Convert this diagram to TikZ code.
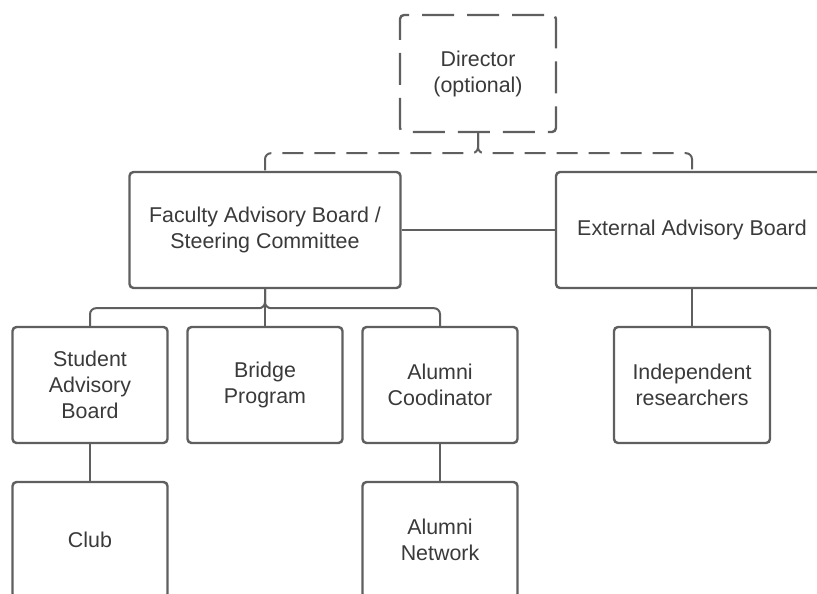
\documentclass[tikz,border=0pt]{standalone}
\usepackage{fontspec}
\setmainfont{Liberation Sans}
\definecolor{edge}{HTML}{5F5F5F}
\definecolor{ink}{HTML}{3A3A3A}
\begin{document}
\begin{tikzpicture}[x=1pt,y=-1pt,
  box/.style={draw=edge, line width=2.4pt, rounded corners=4pt, fill=white,
    text=ink, align=center, inner sep=0pt,
    font=\fontsize{21.4}{26}\selectfont},
  small/.style={box, minimum width=155pt, minimum height=116pt},
  wide/.style={box, minimum width=271pt, minimum height=116pt},
  link/.style={draw=edge, line width=2pt, rounded corners=6pt},
  optlink/.style={link, dash pattern=on 21pt off 11pt},
]
\useasboundingbox (0,0) rectangle (817,594);
\clip (0,0) rectangle (817,594);

% top level
\node[small, minimum width=156pt, minimum height=117pt,
      dash pattern=on 32pt off 13pt, dash phase=-8pt] (dir) at (478,73.5)
  {Director\\(optional)};
\node[wide] (fac) at (265,230) {Faculty Advisory Board /\\Steering Committee};
\node[wide, minimum width=272pt] (ext) at (692,230) {External Advisory Board};

% second row
\node[small] (sab) at (90,385)  {Student\\Advisory\\Board};
\node[small] (bri) at (265,385) {Bridge\\Program};
\node[small] (alc) at (440,385) {Alumni\\Coodinator};
\node[small, minimum width=156pt] (ind) at (692,385) {Independent\\researchers};

% third row
\node[small] (club) at (90,540)  {Club};
\node[small] (aln)  at (440,540) {Alumni\\Network};

% optional director links
\draw[optlink] (dir.south) -- ++(0,20) -| (fac.north);
\draw[optlink] (dir.south) -- ++(0,20) -| (ext.north);

% reporting lines
\draw[link] (fac.east) -- (ext.west);
\draw[link] (fac.south) -- ++(0,19) -| (sab.north);
\draw[link] (fac.south) -- (bri.north);
\draw[link] (fac.south) -- ++(0,19) -| (alc.north);
\draw[link] (ext.south) -- (ind.north);
\draw[link] (sab.south) -- (club.north);
\draw[link] (alc.south) -- (aln.north);
\end{tikzpicture}
\end{document}
